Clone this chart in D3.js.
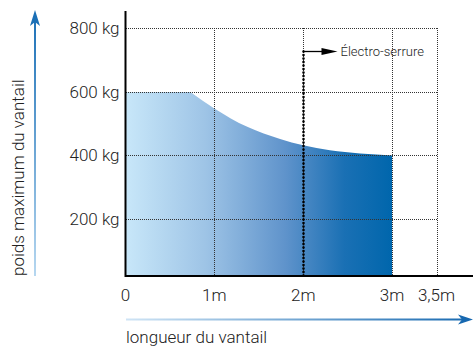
<!DOCTYPE html>
<html>
<head>
<meta charset="utf-8">
<script src="https://cdn.jsdelivr.net/npm/d3@7"></script>
<style>
  html, body { margin: 0; padding: 0; background: #fff; }
  svg { display: block; }
  text { font-family: Roboto, "Liberation Sans", Arial, sans-serif; font-weight: 300; fill: #222; }
</style>
</head>
<body>
<svg id="chart" width="473" height="347"></svg>
<script>
// Maximum leaf weight as a function of leaf length
const lengthsM = [0, 0.73, 1, 1.37, 1.74, 2, 2.3, 2.64, 3];
const maxWeightKg = [600, 600, 548, 490, 452, 432, 416, 406, 400];

const xTickValues = [0, 1, 2, 3, 3.5];
const xTickLabels = ["0", "1m", "2m", "3m", "3,5m"];
const yTickValues = [200, 400, 600, 800];
const yTickLabels = ["200 kg", "400 kg", "600 kg", "800 kg"];

const lockLength = 2;
const lockWeight = 730;
const lockLabel = "Électro-serrure";
const xTitle = "longueur du vantail";
const yTitle = "poids maximum du vantail";

const svg = d3.select("#chart");
const W = 473, H = 347;
const plotLeft = 125.5, plotRight = 436.5, plotTop = 28.3, axisY = 276;

const x = d3.scaleLinear().domain([0, 3.5]).range([plotLeft, plotRight]);
const y = d3.scaleLinear().domain([0, 800]).range([282.6, plotTop]);

const defs = svg.append("defs");

// Fill gradient: light sky blue to deep blue along the length axis
const fillGrad = defs.append("linearGradient")
  .attr("id", "fillGrad")
  .attr("gradientUnits", "userSpaceOnUse")
  .attr("x1", x(0)).attr("x2", x(3)).attr("y1", 0).attr("y2", 0);
[[0, "#c8e7f9"], [0.3, "#9ec4e6"], [0.6, "#5f93cb"], [0.82, "#1a70b4"], [1, "#0066ac"]]
  .forEach(([o, c]) => fillGrad.append("stop").attr("offset", o).attr("stop-color", c));

const data = lengthsM.map((l, i) => ({ l, w: maxWeightKg[i] }));

// Flat plateau followed by a smooth decreasing curve, closed down to the axis
const plateauEnd = data.findIndex((d, i) => i > 0 && d.w < data[0].w) - 1;
const plateau = data.slice(0, plateauEnd + 1);
const decline = data.slice(plateauEnd);
const flatPart = d3.line().x(d => x(d.l)).y(d => y(d.w))(plateau);
const curvePart = d3.line().x(d => x(d.l)).y(d => y(d.w)).curve(d3.curveMonotoneX)(decline);
const last = data[data.length - 1];
const areaPath =
  `M${x(data[0].l)},${axisY}L` + flatPart.slice(1) +
  "L" + curvePart.slice(1) +
  `L${x(last.l)},${axisY}Z`;

svg.append("path")
  .attr("fill", "url(#fillGrad)")
  .attr("d", areaPath);

// Dotted grid
const grid = svg.append("g")
  .attr("stroke", "#333")
  .attr("stroke-width", 1)
  .attr("stroke-dasharray", "1,1")
  .attr("shape-rendering", "crispEdges");

grid.selectAll("line.h")
  .data(yTickValues)
  .join("line")
  .attr("class", "h")
  .attr("x1", x(0)).attr("x2", x(3.5))
  .attr("y1", d => Math.round(y(d)) + 0.5)
  .attr("y2", d => Math.round(y(d)) + 0.5);

grid.selectAll("line.v")
  .data(xTickValues.filter(v => v > 0))
  .join("line")
  .attr("class", "v")
  .attr("x1", d => Math.round(x(d)) + 0.5)
  .attr("x2", d => Math.round(x(d)) + 0.5)
  .attr("y1", y(800)).attr("y2", axisY);

// Electric lock marker: bold dotted line with pointer
const lx = Math.round(x(lockLength)) + 0.5;
const ly = Math.round(y(lockWeight)) + 0.5;
svg.append("line")
  .attr("x1", lx).attr("x2", lx)
  .attr("y1", ly).attr("y2", axisY)
  .attr("stroke", "#000")
  .attr("stroke-width", 2.6)
  .attr("stroke-linecap", "round")
  .attr("stroke-dasharray", "0.1,3.4");
svg.append("line")
  .attr("x1", lx).attr("x2", lx + 20)
  .attr("y1", ly).attr("y2", ly)
  .attr("stroke", "#000").attr("stroke-width", 1.3);
svg.append("path")
  .attr("d", `M${lx + 34},${ly} L${lx + 18},${ly - 3.6} L${lx + 18},${ly + 3.6} Z`)
  .attr("fill", "#000");
svg.append("text")
  .attr("x", lx + 37).attr("y", ly + 4.5)
  .attr("font-size", 13)
  .text(lockLabel);

// Axes lines
svg.append("line")
  .attr("x1", plotLeft).attr("x2", plotLeft)
  .attr("y1", 11).attr("y2", axisY + 1)
  .attr("stroke", "#000").attr("stroke-width", 2);
svg.append("line")
  .attr("x1", plotLeft).attr("x2", W)
  .attr("y1", axisY).attr("y2", axisY)
  .attr("stroke", "#000").attr("stroke-width", 2);

// Tick labels
svg.append("g").selectAll("text")
  .data(yTickValues)
  .join("text")
  .attr("x", plotLeft - 6)
  .attr("y", d => y(d) + 6)
  .attr("text-anchor", "end")
  .attr("font-size", 17)
  .text((d, i) => yTickLabels[i]);

svg.append("g").selectAll("text")
  .data(xTickValues)
  .join("text")
  .attr("x", d => x(d))
  .attr("y", 301)
  .attr("text-anchor", "middle")
  .attr("font-size", 17)
  .text((d, i) => xTickLabels[i]);

// Axis title arrows
const yArrowGrad = defs.append("linearGradient")
  .attr("id", "yArrowGrad").attr("gradientUnits", "userSpaceOnUse")
  .attr("x1", 0).attr("x2", 0).attr("y1", 276).attr("y2", 10);
yArrowGrad.append("stop").attr("offset", 0).attr("stop-color", "#b6d7f0");
yArrowGrad.append("stop").attr("offset", 1).attr("stop-color", "#1a6fb6");

const xArrowGrad = defs.append("linearGradient")
  .attr("id", "xArrowGrad").attr("gradientUnits", "userSpaceOnUse")
  .attr("x1", 126).attr("x2", 473).attr("y1", 0).attr("y2", 0);
xArrowGrad.append("stop").attr("offset", 0).attr("stop-color", "#cfe4f5");
xArrowGrad.append("stop").attr("offset", 1).attr("stop-color", "#1668b0");

const ax = 35, ayTop = 10;
svg.append("line")
  .attr("x1", ax).attr("x2", ax).attr("y1", 276).attr("y2", ayTop + 10)
  .attr("stroke", "url(#yArrowGrad)").attr("stroke-width", 2);
svg.append("path")
  .attr("d", `M${ax},${ayTop} L${ax + 5},${ayTop + 16} L${ax},${ayTop + 12} L${ax - 5},${ayTop + 16} Z`)
  .attr("fill", "#1a6fb6");

const bx = 126, by = 319.5, bxTip = 473;
svg.append("line")
  .attr("x1", bx).attr("x2", bxTip - 10).attr("y1", by).attr("y2", by)
  .attr("stroke", "url(#xArrowGrad)").attr("stroke-width", 2);
svg.append("path")
  .attr("d", `M${bxTip},${by} L${bxTip - 15},${by - 5} L${bxTip - 11},${by} L${bxTip - 15},${by + 5} Z`)
  .attr("fill", "#1668b0");

// Axis titles
svg.append("text")
  .attr("x", 126).attr("y", 343)
  .attr("font-size", 17)
  .text(xTitle);

svg.append("text")
  .attr("transform", "translate(24,276) rotate(-90)")
  .attr("font-size", 17)
  .text(yTitle);
</script>
</body>
</html>
